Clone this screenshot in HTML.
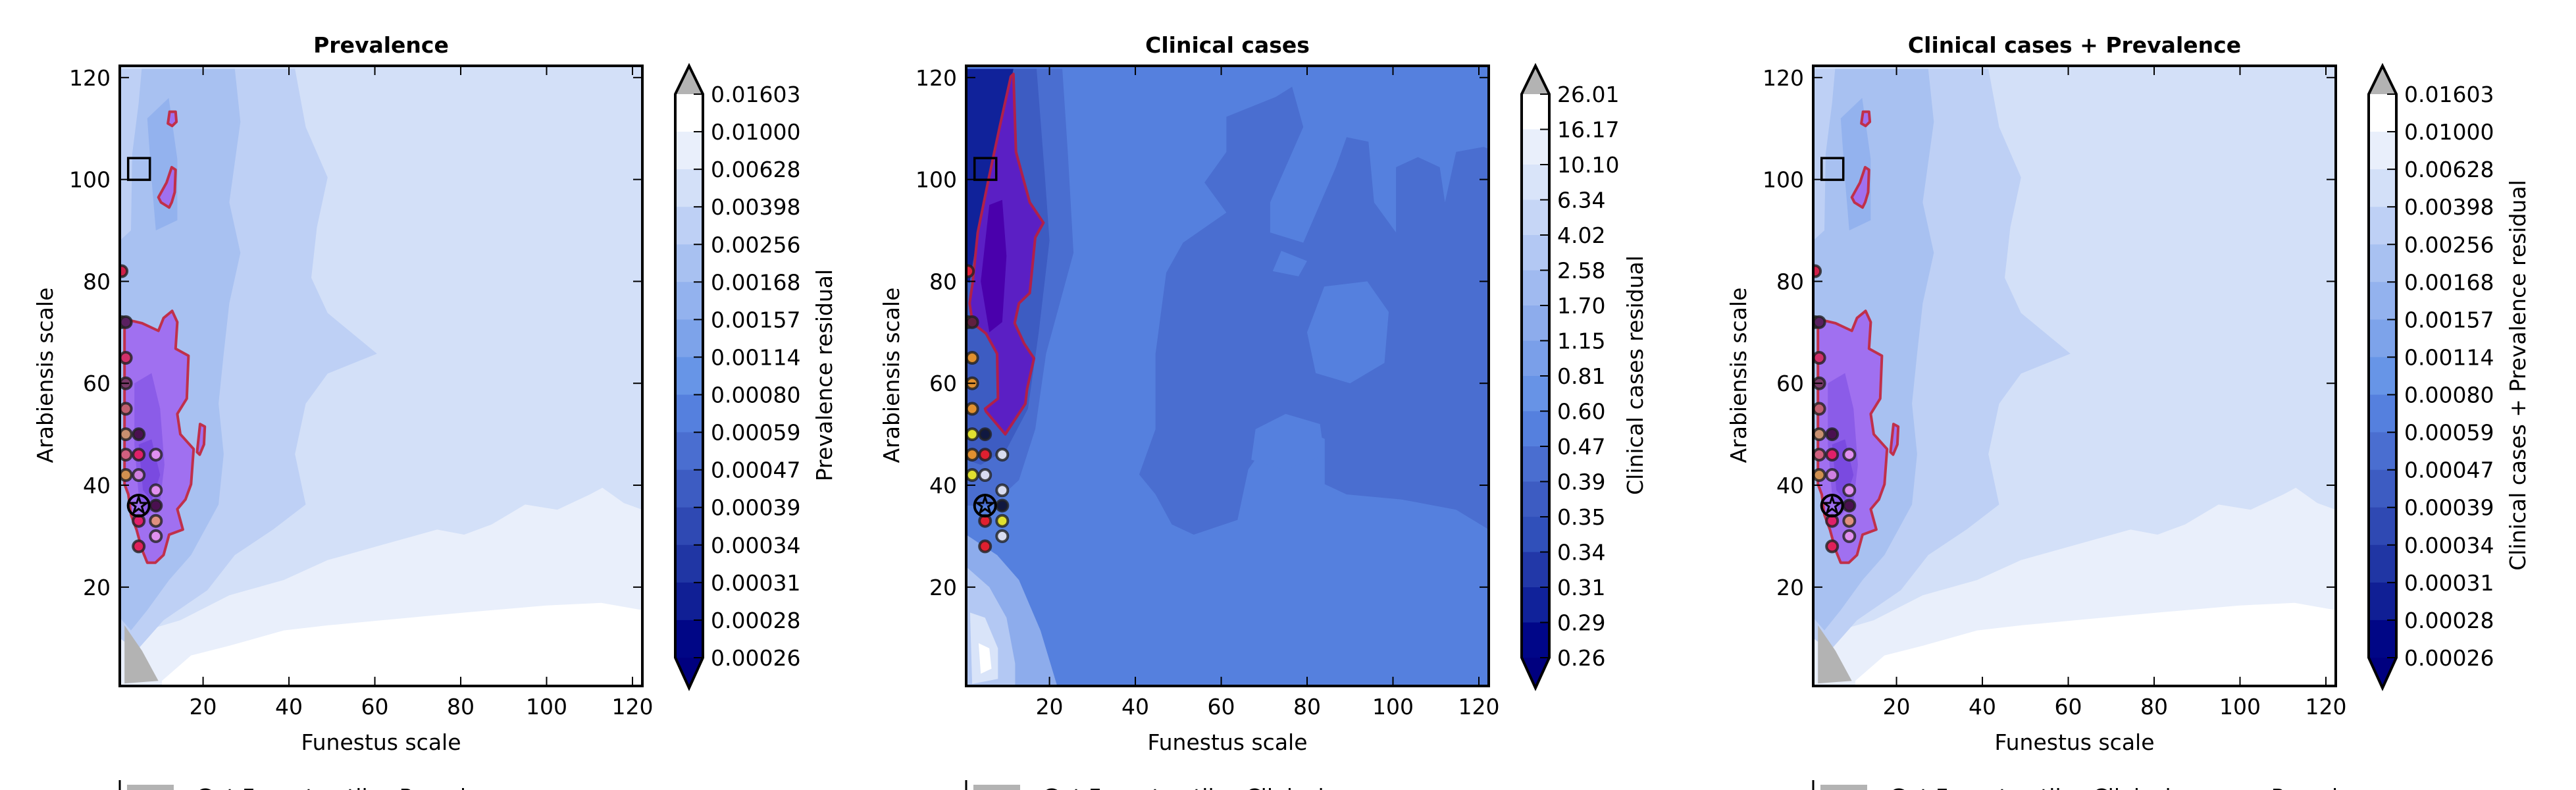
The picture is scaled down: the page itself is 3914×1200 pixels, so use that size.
<!DOCTYPE html>
<html><head><meta charset="utf-8"><style>
html,body{margin:0;padding:0;background:#fff;}
svg{display:block;font-family:"DejaVu Sans","Liberation Sans",sans-serif;}
</style></head><body>
<svg id="fig" width="3914" height="1200" viewBox="0 0 3914 1200" xmlns="http://www.w3.org/2000/svg"></svg>
<script>
const xTicks=[20,40,60,80,100,120];
const yTicks=[20,40,60,80,100,120];
const prevLabels=["0.01603","0.01000","0.00628","0.00398","0.00256","0.00168","0.00157","0.00114","0.00080","0.00059","0.00047","0.00039","0.00034","0.00031","0.00028","0.00026"];
const clinLabels=["26.01","16.17","10.10","6.34","4.02","2.58","1.70","1.15","0.81","0.60","0.47","0.39","0.35","0.34","0.31","0.29","0.26"];
const prevColors=["#ffffff","#e9effb","#d3e0f8","#bed0f5","#a8c1f1","#93b2ee","#7da3ea","#6795e7","#5580de","#4a6ed0","#3d5cc2","#2f49b3","#2036a4","#101f95","#000686"];
const clinColors=["#ffffff","#e9effb","#d9e4f9","#c6d6f6","#b3c8f3","#a0baf0","#8dacec","#7a9fe9","#6793e6","#5580de","#4a6ed0","#3d5cc2","#3050ba","#2238a8","#10229a","#000688"];
// prevalence contour regions (data coords: funestus, arabiensis)
const prevLightBand=[[0.6,0.6],[0.6,10],[14.7,13.5],[26.1,18.4],[38.8,21.4],[49,25.3],[61.7,28.3],[74.5,31.3],[80.8,30.3],[87.2,32.3],[95,36.2],[102.5,35.2],[110.1,38.2],[113,39.5],[118,36.5],[122.3,35.2],[122.3,0.6]];
const prevWhite=[[10.4,0.6],[10.4,1.6],[17.2,6.6],[26.1,8.5],[38.8,11.5],[49,12.5],[61.7,13.5],[80.8,15],[99.9,16.4],[112.7,16.9],[122.3,15.5],[122.3,0.6]];
const prevMidCol=[[0.6,121.7],[41.4,121.7],[43.9,110.3],[49,100.4],[46.5,90.6],[45.2,80.7],[49,73.8],[60.5,65.8],[49,61.9],[43.9,56],[41.4,46.1],[43.9,36.2],[36.3,31.3],[27.4,26.3],[21,19.4],[10.8,13.5],[4.5,7.5],[0.6,10]];
const prevDarkCol=[[5.7,121.7],[27.4,121.7],[28.7,111.3],[26.1,95.5],[28.7,85.6],[26.1,75.7],[24.8,65.8],[23.6,56],[24.8,46.1],[23.6,36.2],[17.2,26.3],[12.1,21.4],[7,15.5],[3.2,11.5],[0.6,14],[0.6,88],[3.2,90],[3.5,105],[5,115]];
const prevDarker=[[7,112],[12,116],[14,104],[14,92],[9,90],[8,100]];
const prevBlob=[[1.7,72.6],[5.8,71.8],[9.6,70.3],[10.8,72.8],[12.8,74.2],[14,72],[13.6,66.8],[16.6,65.4],[16.2,57],[14,54],[14.7,50],[17.8,47.1],[17.2,40.2],[15.9,37.2],[14,35.3],[15.3,31.3],[12.1,30.3],[10.8,26.3],[8.9,24.8],[7,24.8],[5.8,27.3],[4.5,31.3],[3.2,34.2],[2.6,38.2],[1.7,40.2],[1.7,46.1],[1.7,65.8]];
const prevBlob2=[[9.6,96.5],[11.5,99.4],[12.7,102.4],[13.6,101.9],[13.4,97.5],[12.7,95.5],[12.1,94.5],[10.2,95.5]];
const prevBlob3=[[18.6,46.5],[19.3,52],[20.4,51.5],[20.2,48],[19.2,46]];
const prevBlob4=[[11.8,111],[12.2,113.3],[13.6,113.3],[13.8,111.3],[12.8,110.5]];
const prevCore=[[4,60],[8,62],[10,55],[11,44],[10,37],[7,34],[5,38],[4,48]];
const prevCore2=[[5,48],[8,49],[10,42],[8,37],[6,39]];
const prevGray=[[1.7,12.5],[5.8,7.5],[9.6,1.6],[1.7,1.1]];
// clinical regions
const clinDark=[[61.2,112.3],[72.7,116.2],[76.5,118.2],[79.1,110.3],[71.4,95.5],[71.4,89.6],[79.1,87.6],[86.7,102.4],[89.2,108.3],[94.3,107.4],[95.6,95.5],[100.7,89.6],[100.7,102.4],[105.8,104.4],[110.9,102.4],[112.1,95.5],[114.7,105.4],[121.1,106.4],[122.3,106],[122.3,31.3],[114.7,35.2],[102,37.2],[89.2,38.2],[84.1,40.2],[84.1,49.1],[79.1,51],[71.4,49.1],[66.3,43.1],[63.8,33.2],[53.6,30.3],[48.5,32.3],[44.7,38.2],[40.9,42.1],[44.7,51],[44.7,65.8],[47.2,81.7],[51.1,87.6],[61.2,93.5],[56.1,99.4],[61.2,105.4]];
const clinLightPatchA=[[82,62],[90,60],[98,64],[99,74],[94,80],[84,79],[80,70]];
const clinLightPatchB=[[67,45],[75,43],[84,46],[83,52],[75,54],[68,51]];
const clinLightPatchC=[[72,82],[78,81],[80,84],[74,86]];
const clinLeftBand=[[0.6,121.7],[23,121.7],[24.3,105],[25.6,85.6],[19.2,65.8],[16.7,51],[12.9,41],[6.5,36],[0.6,36]];
const clinNearBand=[[0.6,121.7],[17,121.7],[19,100],[20,88],[17.5,70],[15,55],[10,47],[4,44],[0.6,45]];
const clinNavy=[[0.8,121.7],[11.6,121.7],[7.1,102.4],[3.9,92.5],[1.4,79.7],[0.6,80]];
const clinTongue=[[11.6,120.7],[12.2,105.4],[15.4,95.5],[18.6,91.5],[16.7,88.6],[15.4,77.7],[12.9,75.7],[11.9,71.8],[14.1,67.8],[16.4,64.9],[14.8,58.9],[14.4,56],[9.7,50],[5.2,54.5],[5,55],[8,57],[7.8,65.8],[5.2,69.8],[2.1,71.8],[1.4,75.7],[2.1,79.7],[3.3,89.6],[5.9,100.4],[8.4,110.3],[11,120.2]];
const clinTongueCore=[[6,95],[9,96],[10,85],[9,72],[6,70],[4,80]];
const clinLowA=[[0.6,30.3],[7.8,26.3],[12.9,21.4],[17.9,11.5],[21.8,0.6],[0.6,0.6]];
const clinLowB=[[0.6,24],[6,20],[10,14],[12,5],[12,0.6],[0.6,0.6]];
const clinLowC=[[1.5,15],[5,14],[8,8],[8,2],[2,1]];
const clinLowD=[[3.5,9],[6,8],[6.5,4],[4,3]];
// markers
const markerX=[1,1,2,2,2,2,2,2,2,5,5,5,9,9,9,9,9,5,5];
const markerY=[82,72,72,65,60,55,50,46,42,50,46,42,46,39,36,33,30,33,28];
const prevMarkerColors=["#d0204a","#a0a020","#5a2060","#d0306a","#7a3a6a","#c06070","#c89070","#d06080","#d09050","#4a1050","#e0206a","#d080e0","#e090f0","#e090f0","#4a1050","#e09080","#e090f0","#e0206a","#e0205a"];
const clinMarkerColors=["#e0203a","#d0d020","#602040","#e09030","#e09030","#e09030","#e0e030","#e09030","#e0e030","#101840","#e02030","#d8dcf0","#d8dcf0","#d8dcf0","#101840","#e0e030","#d8dcf0","#e02030","#e02030"];
const starXY=[5,36];
const squareXY=[5,102];

const NS="http://www.w3.org/2000/svg";
const svg=document.getElementById('fig');
function mk(tag,attrs,parent){const e=document.createElementNS(NS,tag);for(const k in attrs)e.setAttribute(k,attrs[k]);(parent||svg).appendChild(e);return e;}
const X0=0.6,X1=122.3,Y0=0.6,Y1=122.3,TOP=100,BOT=1042,W=794;
const panels=[
 {left:182,title:"Prevalence",cbl:"Prevalence residual",labels:prevLabels,colors:prevColors,kind:"prev",leg:"Gut Funestus-tiles Prevalence"},
 {left:1468,title:"Clinical cases",cbl:"Clinical cases residual",labels:clinLabels,colors:clinColors,kind:"clin",leg:"Gut Funestus-tiles Clinical cases"},
 {left:2755,title:"Clinical cases + Prevalence",cbl:"Clinical cases + Prevalence residual",labels:prevLabels,colors:prevColors,kind:"prev",leg:"Gut Funestus-tiles Clinical cases + Prevalence"}
];
panels.forEach((p,pi)=>{
 const sx=v=>p.left+(v-X0)/(X1-X0)*W;
 const sy=v=>BOT-(v-Y0)/(Y1-Y0)*(BOT-TOP);
 const g=mk('g',{});
 
 
 const cp=mk('clipPath',{id:'clip'+pi},g);
 mk('rect',{x:p.left,y:TOP,width:W,height:BOT-TOP},cp);
 const plot=mk('g',{'clip-path':'url(#clip'+pi+')'},g);
 
 
 const poly=(pts,fill,extra,name)=>{const e=mk('polygon',Object.assign({points:pts.map(q=>sx(q[0]).toFixed(1)+','+sy(q[1]).toFixed(1)).join(' '),fill:fill,'stroke-linejoin':'round'},extra||{}),plot);
  
  return e;};
 const C=p.colors;
 if(p.kind==="prev"){
  mk('rect',{x:p.left,y:TOP,width:W,height:BOT-TOP,fill:C[2]},plot);
  poly(prevLightBand,C[1],null,'level-light-band');
  poly(prevWhite,C[0],null,'level-white');
  poly(prevMidCol,C[3],null,'level-mid-column');
  poly(prevDarkCol,C[4],null,'level-dark-column');
  poly(prevDarker,C[5],null,'level-darker-patch');
  const o={stroke:'#c0304a','stroke-width':4};
  poly(prevBlob,'#a070f0',o,'significant-region');
  poly(prevCore,'#8b5ce8',null,'significant-core');
  poly(prevCore2,'#7a4ae0',null,'significant-core-inner');
  poly(prevBlob2,'#a070f0',o,'significant-blob');
  poly(prevBlob3,'#a070f0',o,'significant-blob');
  poly(prevBlob4,'#a070f0',o,'significant-blob');
  poly(prevGray,'#b3b3b3',null,'below-min-region');
 } else {
  mk('rect',{x:p.left,y:TOP,width:W,height:BOT-TOP,fill:C[9]},plot);
  poly(clinDark,C[10],null,'level-dark-patch');
  poly(clinLightPatchA,C[9],null,'level-light-patch');
  poly(clinLightPatchB,C[9],null,'level-light-patch');
  poly(clinLightPatchC,C[9],null,'level-light-patch');
  poly(clinLeftBand,C[10],null,'level-left-band');
  poly(clinNearBand,C[11],null,'level-near-band');
  poly(clinNavy,C[14],null,'level-navy');
  poly(clinTongue,'#5b1fc4',{stroke:'#b0204a','stroke-width':4},'significant-region');
  poly(clinTongueCore,'#4a00ac',null,'significant-core');
  poly(clinLowA,C[6],null,'level-low-a');
  poly(clinLowB,C[4],null,'level-low-b');
  poly(clinLowC,C[2],null,'level-low-c');
  poly(clinLowD,C[0],null,'level-low-d');
 }
 // markers
 const mc=p.kind==="prev"?prevMarkerColors:clinMarkerColors;
 markerX.forEach((mx,i)=>{
  const c=mk('circle',{cx:sx(mx),cy:sy(markerY[i]),r:8.5,fill:mc[i],stroke:'#222','stroke-width':4,'stroke-opacity':0.8},plot);
  
  
 });
 const scx=sx(starXY[0]),scy=sy(starXY[1]);
 const sc=mk('circle',{cx:scx,cy:scy,r:16,fill:'none',stroke:'#000','stroke-width':4},plot);
 
 
 let sp=[];for(let k=0;k<10;k++){const a=-Math.PI/2+k*Math.PI/5,r=k%2?5:13;sp.push((scx+r*Math.cos(a)).toFixed(1)+','+(scy+r*Math.sin(a)).toFixed(1));}
 const st=mk('polygon',{points:sp.join(' '),fill:'none',stroke:'#000','stroke-width':3},plot);
 
 
 const sq=mk('rect',{x:sx(squareXY[0])-16,y:sy(squareXY[1])-17,width:33,height:33,fill:'none',stroke:'#000','stroke-width':3.5},plot);
 
 
 // frame
 const fr=mk('rect',{x:p.left,y:TOP,width:W,height:BOT-TOP,fill:'none',stroke:'#000','stroke-width':4},g);
 
 
 xTicks.forEach(t=>{const x=sx(t);
  mk('line',{x1:x,y1:BOT,x2:x,y2:BOT-14,stroke:'#000','stroke-width':2},g);
  mk('line',{x1:x,y1:TOP,x2:x,y2:TOP+14,stroke:'#000','stroke-width':2},g);
  const tx=mk('text',{x:x,y:1085,'font-size':33,'text-anchor':'middle'},g);tx.textContent=t;
  
  
 });
 yTicks.forEach(t=>{const y=sy(t);
  mk('line',{x1:p.left,y1:y,x2:p.left+14,y2:y,stroke:'#000','stroke-width':2},g);
  mk('line',{x1:p.left+W,y1:y,x2:p.left+W-14,y2:y,stroke:'#000','stroke-width':2},g);
  const ty=mk('text',{x:p.left-14,y:y+12,'font-size':33,'text-anchor':'end'},g);ty.textContent=t;
  
  
 });
 const ti=mk('text',{x:p.left+W/2,y:80,'font-size':33,'font-weight':'bold','text-anchor':'middle'},g);ti.textContent=p.title;
 
 
 const xl=mk('text',{x:p.left+W/2,y:1139,'font-size':33,'text-anchor':'middle'},g);xl.textContent="Funestus scale";
 
 
 const yl=mk('text',{x:0,y:0,'font-size':33,'text-anchor':'middle',transform:'translate('+(p.left-102)+',570) rotate(-90)'},g);yl.textContent="Arabiensis scale";
 
 
 // colorbar
 const cx0=p.left+W+50,cw=42,ct=143,cb=999,n=C.length,bh=(cb-ct)/n;
 const cbg=mk('g',{},g);
 
 
 C.forEach((col,i)=>{const r=mk('rect',{x:cx0,y:ct+i*bh,width:cw,height:bh+0.5,fill:col},cbg);
  
  });
 mk('polygon',{points:`${cx0},${ct} ${cx0+cw/2},${TOP} ${cx0+cw},${ct}`,fill:'#b3b3b3'},cbg);
 mk('polygon',{points:`${cx0},${cb} ${cx0+cw/2},${BOT+3} ${cx0+cw},${cb}`,fill:'#00007f'},cbg);
 mk('polygon',{points:`${cx0},${ct} ${cx0+cw/2},${TOP} ${cx0+cw},${ct} ${cx0+cw},${cb} ${cx0+cw/2},${BOT+3} ${cx0},${cb}`,fill:'none',stroke:'#000','stroke-width':4},cbg);
 p.labels.forEach((lb,i)=>{const y=ct+i*bh;
  mk('line',{x1:cx0+cw,y1:y,x2:cx0+cw-14,y2:y,stroke:'#000','stroke-width':2},cbg);
  const t=mk('text',{x:cx0+cw+12,y:y+12,'font-size':33},cbg);t.textContent=lb;
  
  
 });
 const lx=p.kind==="prev"?cx0+cw+196:cx0+cw+142;
 const cl=mk('text',{x:0,y:0,'font-size':33,'text-anchor':'middle',transform:'translate('+lx+',570) rotate(-90)'},cbg);cl.textContent=p.cbl;
 
 
 // legend (clipped at bottom)
 const lg=mk('g',{},g);
 
 
 mk('line',{x1:p.left,y1:1185,x2:p.left,y2:1200,stroke:'#000','stroke-width':3},lg);
 mk('rect',{x:p.left+11,y:1192,width:71,height:10,fill:'#b3b3b3'},lg);
 const lt=mk('text',{x:p.left+116,y:1222,'font-size':33},lg);lt.textContent=p.leg;
 
 
});
</script>
</body></html>
